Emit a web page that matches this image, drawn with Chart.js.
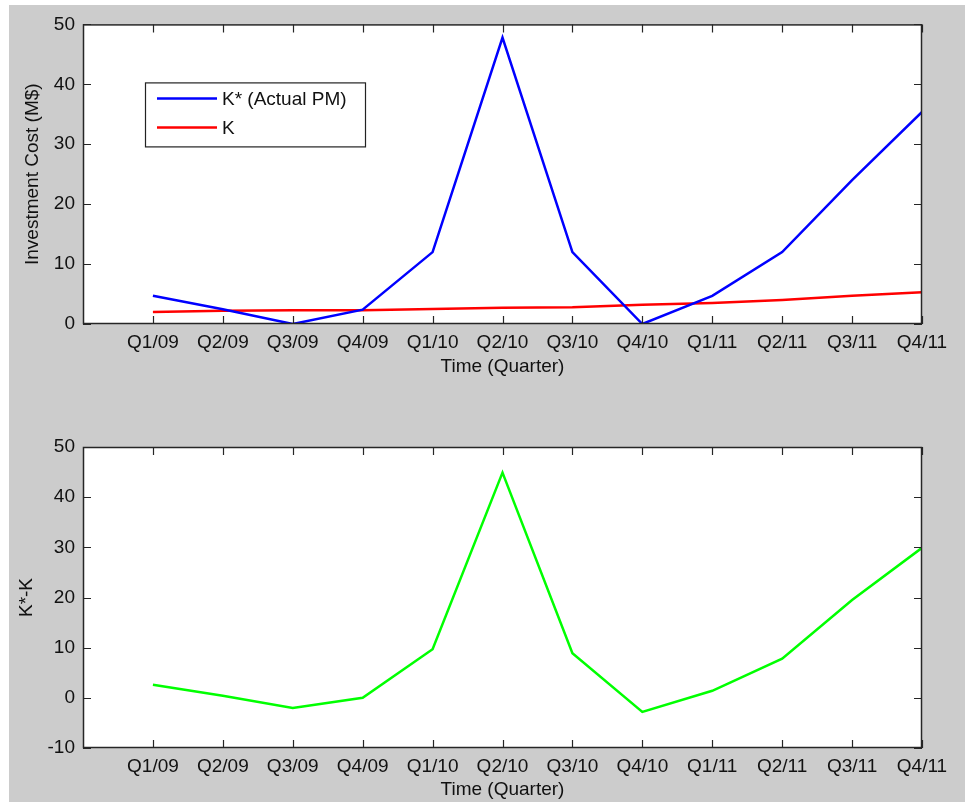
<!DOCTYPE html>
<html>
<head>
<meta charset="utf-8">
<script src="https://cdn.jsdelivr.net/npm/chart.js@4.4.1/dist/chart.umd.min.js"></script>
<style>
  html, body { margin: 0; padding: 0; background: #fff; }
  #fig  { position: absolute; left: 9px; top: 5px; width: 956px; height: 797px; background: #cccccc; }
  .pane { position: absolute; left: 0; width: 956px; }
</style>
</head>
<body>
<div id="fig">
  <div class="pane" style="top:0;height:395px"><canvas id="topChart" width="956" height="395"></canvas></div>
  <div class="pane" style="top:395px;height:402px"><canvas id="bottomChart" width="956" height="402"></canvas></div>
</div>
<script>
// ─── Data ────────────────────────────────────────────────────────────────────
const quarters = ['Q1/09', 'Q2/09', 'Q3/09', 'Q4/09', 'Q1/10', 'Q2/10',
                  'Q3/10', 'Q4/10', 'Q1/11', 'Q2/11', 'Q3/11', 'Q4/11'];
const kStar    = [4.7, 2.45, 0, 2.4, 12, 47.8, 12, 0, 4.7, 12, 24, 35.4];
const kBase    = [2.0, 2.2, 2.3, 2.3, 2.5, 2.7, 2.8, 3.2, 3.5, 4.0, 4.7, 5.3];
const kDiff    = [2.6, 0.4, -2.0, 0, 9.7, 44.9, 8.9, -2.8, 1.4, 7.8, 19.5, 29.9];

const topYTicks    = [0, 10, 20, 30, 40, 50];
const bottomYTicks = [-10, 0, 10, 20, 30, 40, 50];

const FONT = '"Liberation Sans", Arial, sans-serif';
Chart.defaults.font.family = FONT;
Chart.defaults.font.size   = 19;
Chart.defaults.color       = '#111';

const toPoints = arr => arr.map((v, i) => ({ x: i + 1, y: v }));

// ─── Plugins: MATLAB-style white box with inward ticks, boxed legend ────────
const matlabAxes = {
  id: 'matlabAxes',
  beforeDatasetsDraw(chart) {
    const { ctx, chartArea: a } = chart;
    ctx.save();
    ctx.fillStyle = '#fff';
    ctx.fillRect(a.left, a.top, a.width, a.height);
    ctx.restore();
  },
  afterDatasetsDraw(chart) {
    const { ctx, chartArea: a, scales: { x, y } } = chart;
    const len = 8;
    ctx.save();
    ctx.strokeStyle = '#262626';
    ctx.lineWidth = 1.2;
    ctx.beginPath();
    x.ticks.forEach(t => {
      const px = Math.round(x.getPixelForValue(t.value)) + 0.5;
      ctx.moveTo(px, a.bottom); ctx.lineTo(px, a.bottom - len);
      ctx.moveTo(px, a.top);    ctx.lineTo(px, a.top + len);
    });
    y.ticks.forEach(t => {
      const py = Math.round(y.getPixelForValue(t.value)) + 0.5;
      ctx.moveTo(a.left, py);  ctx.lineTo(a.left + len, py);
      ctx.moveTo(a.right, py); ctx.lineTo(a.right - len, py);
    });
    ctx.stroke();
    ctx.lineWidth = 1.5;
    ctx.strokeRect(a.left + 0.5, a.top + 0.5, a.width - 1, a.height - 1);
    ctx.restore();
  }
};

const boxLegend = {
  id: 'boxLegend',
  afterDraw(chart) {
    const { ctx, chartArea: a } = chart;
    const x0 = a.left + 62, y0 = a.top + 58, w = 220, h = 64;
    ctx.save();
    ctx.fillStyle = '#fff';
    ctx.fillRect(x0, y0, w, h);
    ctx.strokeStyle = '#222';
    ctx.lineWidth = 1.2;
    ctx.strokeRect(x0 + 0.5, y0 + 0.5, w, h);
    ctx.font = '19px ' + FONT;
    ctx.textBaseline = 'middle';
    chart.data.datasets.forEach((ds, i) => {
      const yy = y0 + 16 + i * 29;
      ctx.strokeStyle = ds.borderColor;
      ctx.lineWidth = ds.borderWidth;
      ctx.beginPath();
      ctx.moveTo(x0 + 12, yy);
      ctx.lineTo(x0 + 72, yy);
      ctx.stroke();
      ctx.fillStyle = '#111';
      ctx.fillText(ds.label, x0 + 77, yy + 1);
    });
    ctx.restore();
  }
};

// ─── Shared axis options ─────────────────────────────────────────────────────
function makeOptions({ yTicks, yTitle, yTitlePad, xHeight, xTitlePad, padTop }) {
  return {
    responsive: false,
    animation: false,
    layout: { padding: { left: 0, top: padTop, right: 43, bottom: 0 } },
    plugins: { legend: { display: false }, tooltip: { enabled: false } },
    elements: { point: { radius: 0 }, line: { tension: 0 } },
    scales: {
      x: {
        type: 'linear',
        min: 0,
        max: quarters.length,
        grid: { display: false, drawTicks: false },
        border: { display: false },
        afterBuildTicks: s => { s.ticks = quarters.map((q, i) => ({ value: i + 1 })); },
        afterFit: s => { s.height = xHeight; },
        ticks: {
          padding: 7,
          maxRotation: 0,
          autoSkip: false,
          callback: v => quarters[v - 1],
        },
        title: { display: true, text: 'Time (Quarter)', padding: { top: 0, bottom: xTitlePad } },
      },
      y: {
        min: yTicks[0],
        max: yTicks[yTicks.length - 1],
        grid: { display: false, drawTicks: false },
        border: { display: false },
        afterBuildTicks: s => { s.ticks = yTicks.map(v => ({ value: v })); },
        afterFit: s => { s.width = 74; },
        ticks: { padding: 8 },
        title: { display: true, text: yTitle, padding: { top: yTitlePad, bottom: 0 } },
      },
    },
  };
}

// ─── Top: K* vs K ────────────────────────────────────────────────────────────
new Chart(document.getElementById('topChart'), {
  type: 'line',
  data: {
    datasets: [
      { label: 'K* (Actual PM)', data: toPoints(kStar), borderColor: '#0000ff', borderWidth: 2.5 },
      { label: 'K',              data: toPoints(kBase), borderColor: '#ff0000', borderWidth: 2.5 },
    ],
  },
  options: makeOptions({ yTicks: topYTicks, yTitle: 'Investment Cost (M$)', yTitlePad: 12,
                         xHeight: 76, xTitlePad: 22, padTop: 19 }),
  plugins: [matlabAxes, boxLegend],
});

// ─── Bottom: K* - K ──────────────────────────────────────────────────────────
new Chart(document.getElementById('bottomChart'), {
  type: 'line',
  data: {
    datasets: [
      { label: 'K*-K', data: toPoints(kDiff), borderColor: '#00ff00', borderWidth: 2.5 },
    ],
  },
  options: makeOptions({ yTicks: bottomYTicks, yTitle: 'K*-K', yTitlePad: 6,
                         xHeight: 54, xTitlePad: 1, padTop: 47 }),
  plugins: [matlabAxes],
});
</script>
</body>
</html>
